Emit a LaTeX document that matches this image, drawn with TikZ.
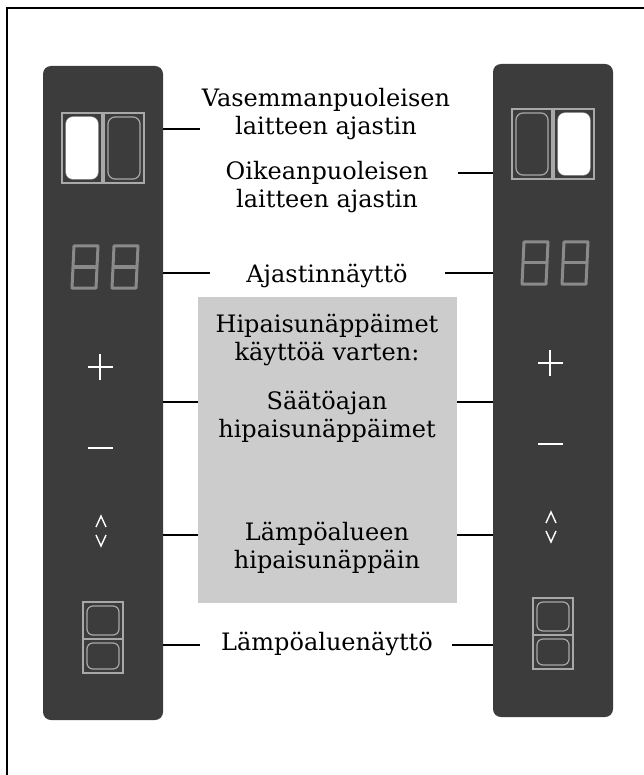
\documentclass[tikz,border=0pt]{standalone}
\usepackage{fontspec}
\setmainfont{DejaVu Serif}
\usetikzlibrary{positioning}
\definecolor{panelgray}{HTML}{3C3C3C}
\definecolor{boxgray}{HTML}{CCCCCC}
\definecolor{rimgray}{HTML}{A8A8A8}
\definecolor{seggray}{HTML}{8A8A8A}
\tikzset{
  panel/.style={fill=panelgray, rounded corners=8pt, minimum width=120pt,
    minimum height=654pt, inner sep=0pt},
  label/.style={font=\fontsize{24}{28}\selectfont, align=center, inner sep=0pt, anchor=base},
  lead/.style={draw=black, line width=1.3pt},
  rim/.style={draw=rimgray, line width=1.2pt},
  seg/.style={draw=seggray, line width=3pt, line join=round},
  keymark/.style={draw=white, line width=2.6pt}
}
\begin{document}
\begin{tikzpicture}[x=1pt, y=-1pt]
  \useasboundingbox (0,0) rectangle (644,775);
  \draw[line width=2pt] (7,8) rectangle (670,800);

  %% ---------- the two control panels ----------
  \node[panel] (lp) at (103,393)   {};
  \node[panel, minimum height=653pt] (rp) at (553,390.5) {};

  \foreach \cx/\dy/\lit in {103/0/-1, 553/-4/1}{
    \begin{scope}[shift={(\cx,\dy)}]
      % timer keys, one lit
      \draw[rim] (-41,113) rectangle (-1,183);
      \draw[rim] (1,113) rectangle (41,183);
      \draw[rim, rounded corners=7pt] (-37,117) rectangle (-5,179);
      \draw[rim, rounded corners=7pt] (5,117) rectangle (37,179);
      \fill[white, rounded corners=7pt] ({\lit*5},117) rectangle ({\lit*37},179);
      % timer display 88
      \foreach \dx in {-31,9}{
        \draw[seg] (\dx+2,246) -- (\dx+26,246) -- (\dx+24,288) -- (\dx,288) -- cycle;
        \draw[seg] (\dx+1,267) -- (\dx+25,267);
      }
      % plus, minus, zone selector
      \draw[keymark] (-15,367) -- (10,367) (-3,354) -- (-3,380);
      \draw[keymark] (-15,448) -- (10,448);
      \draw[white, line width=1.4pt] (-7,527) -- (-2,516) -- (3,527)
                                     (-7,535) -- (-2,546) -- (3,535);
      % zone display
      \draw[rim] (-20,602) rectangle (20,673);
      \draw[rim] (-20,639) -- (20,639);
      \draw[rim, rounded corners=6pt] (-16,606) rectangle (16,635);
      \draw[rim, rounded corners=6pt] (-16,643) rectangle (16,669);
    \end{scope}
  }

  %% ---------- labels ----------
  \node[fill=boxgray, minimum width=259pt, minimum height=306pt, inner sep=0pt]
    (keys) at (327.5,450) {};
  \node[label] (tl) at (326,135) {Vasemmanpuoleisen\\laitteen ajastin};
  \node[label] (tr) at (327,208) {Oikeanpuoleisen\\laitteen ajastin};
  \node[label] (disp) at (327,283) {Ajastinnäyttö};
  \node[label] (head) at (327,360) {Hipaisunäppäimet\\käyttöä varten:};
  \node[label] (adj) at (327,437) {Säätöajan\\hipaisunäppäimet};
  \node[label] (zone) at (327,568) {Lämpöalueen\\hipaisunäppäin};
  \node[label] (zdisp) at (327,650) {Lämpöaluenäyttö};

  %% ---------- leader lines ----------
  \coordinate (tlc) at (200,129);
  \coordinate (trc) at (458,173);
  \coordinate (dl) at (210,273);
  \coordinate (dr) at (445,273);
  \coordinate (ka) at (0,402);
  \coordinate (kz) at (0,535);
  \coordinate (zl) at (200,645);
  \coordinate (zr) at (452,645);
  \draw[lead] (lp.east |- tlc) -- (tlc);
  \draw[lead] (trc) -- (rp.west |- trc);
  \draw[lead] (lp.east |- dl) -- (dl);
  \draw[lead] (dr) -- (rp.west |- dr);
  \draw[lead] (lp.east |- ka) -- (keys.west |- ka);
  \draw[lead] (keys.east |- ka) -- (rp.west |- ka);
  \draw[lead] (lp.east |- kz) -- (keys.west |- kz);
  \draw[lead] (keys.east |- kz) -- (rp.west |- kz);
  \draw[lead] (lp.east |- zl) -- (zl);
  \draw[lead] (zr) -- (rp.west |- zr);
\end{tikzpicture}
\end{document}
